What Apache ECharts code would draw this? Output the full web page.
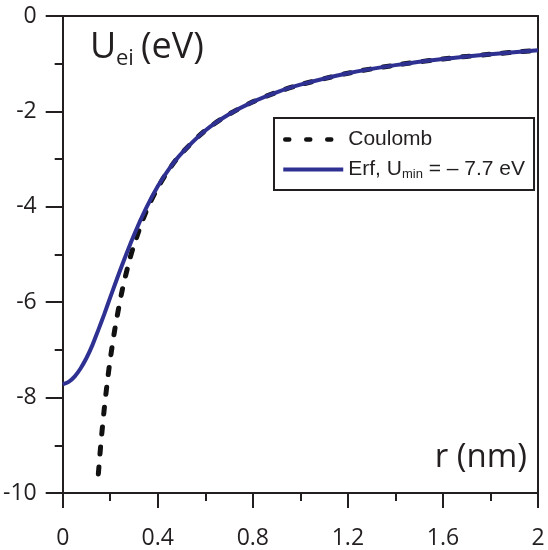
<!DOCTYPE html>
<html>
<head>
<meta charset="utf-8">
<script src="https://cdn.jsdelivr.net/npm/echarts@6/dist/echarts.min.js"></script>
<style>
  html, body { margin: 0; padding: 0; background: #fff; }
  #chart { width: 548px; height: 550px; }
</style>
</head>
<body>
<div id="chart"></div>
<script>
// values
const coulR = [0.15, 0.16, 0.175, 0.19, 0.2, 0.22, 0.25, 0.28, 0.3, 0.35, 0.4, 0.45, 0.5, 0.6, 0.7, 0.8, 0.9, 1.0, 1.2, 1.4, 1.6, 1.8, 2.0];
const coulU = [-9.6, -9.0, -8.23, -7.58, -7.2, -6.55, -5.76, -5.14, -4.8, -4.11, -3.6, -3.2, -2.88, -2.4, -2.06, -1.8, -1.6, -1.44, -1.2, -1.03, -0.9, -0.8, -0.72];

const erfR = [0, 0.025, 0.05, 0.075, 0.1, 0.125, 0.15, 0.175, 0.2, 0.25, 0.3, 0.35, 0.4, 0.45, 0.5, 0.6, 0.7, 0.8, 0.9, 1.0, 1.2, 1.4, 1.6, 1.8, 2.0];
const erfU = [-7.72, -7.67, -7.56, -7.39, -7.17, -6.9, -6.58, -6.25, -5.9, -5.22, -4.59, -4.04, -3.57, -3.19, -2.88, -2.4, -2.06, -1.8, -1.6, -1.44, -1.2, -1.03, -0.9, -0.8, -0.72];

const xTicks = { min: 0, max: 2, step: 0.4 };
const yTicks = { min: -10, max: 0, step: 2 };

const ink = "#231f20";
const blue = "#2e3192";
const dots = "#111";

const chart = echarts.init(document.getElementById("chart"));

chart.setOption({
  animation: false,
  grid: { left: 61, right: 10, top: 16, bottom: 55 },
  legend: {
    orient: "vertical",
    left: 274,
    top: 118,
    padding: [11, 9, 9, 7],
    borderColor: ink,
    borderWidth: 2,
    borderRadius: 0,
    itemWidth: 60,
    itemHeight: 20,
    itemGap: 9,
    itemStyle: { opacity: 0 },
    textStyle: {
      fontFamily: "Liberation Sans",
      fontSize: 21,
      color: ink,
      rich: {
        sub: { fontFamily: "Liberation Sans", fontSize: 13, color: ink, padding: [10, 0, 0, 0] }
      }
    },
    formatter: function (name) {
      if (name === "Erf") return "Erf, U{sub|min} = \u2013 7.7 eV";
      return name;
    },
    data: [
      { name: "Coulomb", lineStyle: { color: dots, width: 4.5, type: [4, 17], cap: "round", dashOffset: -2 } },
      { name: "Erf", lineStyle: { color: blue, width: 4, type: "solid" } }
    ]
  },
  xAxis: [
    {
      type: "value",
      min: xTicks.min,
      max: xTicks.max,
      interval: xTicks.step,
      position: "bottom",
      axisLine: { onZero: false, lineStyle: { color: ink, width: 2 } },
      axisTick: { length: 15, lineStyle: { color: ink, width: 2 } },
      minorTick: { show: true, splitNumber: 2, length: 8, lineStyle: { color: ink, width: 2 } },
      axisLabel: { fontFamily: "Open Sans", fontSize: 23, color: ink, margin: 34 },
      splitLine: { show: false }
    },
    {
      type: "value",
      min: xTicks.min,
      max: xTicks.max,
      position: "top",
      axisLine: { onZero: false, lineStyle: { color: ink, width: 2 } },
      axisTick: { show: false },
      axisLabel: { show: false },
      splitLine: { show: false }
    }
  ],
  yAxis: [
    {
      type: "value",
      min: yTicks.min,
      max: yTicks.max,
      interval: yTicks.step,
      position: "left",
      axisLine: { onZero: false, lineStyle: { color: ink, width: 2 } },
      axisTick: { length: 17, lineStyle: { color: ink, width: 2 } },
      minorTick: { show: true, splitNumber: 2, length: 8, lineStyle: { color: ink, width: 2 } },
      axisLabel: { fontFamily: "Open Sans", fontSize: 23, color: ink, margin: 26 },
      splitLine: { show: false }
    },
    {
      type: "value",
      min: yTicks.min,
      max: yTicks.max,
      position: "right",
      axisLine: { onZero: false, lineStyle: { color: ink, width: 2 } },
      axisTick: { show: false },
      axisLabel: { show: false },
      splitLine: { show: false }
    }
  ],
  graphic: [
    { type: "text", left: 90, top: 30, style: { text: "U", font: "36px 'Open Sans'", fill: ink } },
    { type: "text", left: 116, top: 48, style: { text: "ei", font: "22px 'Open Sans'", fill: ink } },
    { type: "text", left: 141, top: 30, style: { text: "(eV)", font: "36px 'Open Sans'", fill: ink } },
    { type: "text", right: 21, top: 441, style: { text: "r (nm)", font: "33px 'Open Sans'", fill: ink } }
  ],
  series: [
    {
      name: "Coulomb",
      type: "line",
      symbol: "none",
      smooth: 0.3,
      data: coulR.map((r, i) => [r, coulU[i]]),
      lineStyle: { color: dots, width: 5, type: [7, 13], cap: "round" },
      itemStyle: { color: dots },
      z: 2
    },
    {
      name: "Erf",
      type: "line",
      symbol: "none",
      smooth: 0.3,
      data: erfR.map((r, i) => [r, erfU[i]]),
      lineStyle: { color: blue, width: 4 },
      itemStyle: { color: blue },
      z: 3
    }
  ]
});
</script>
</body>
</html>
